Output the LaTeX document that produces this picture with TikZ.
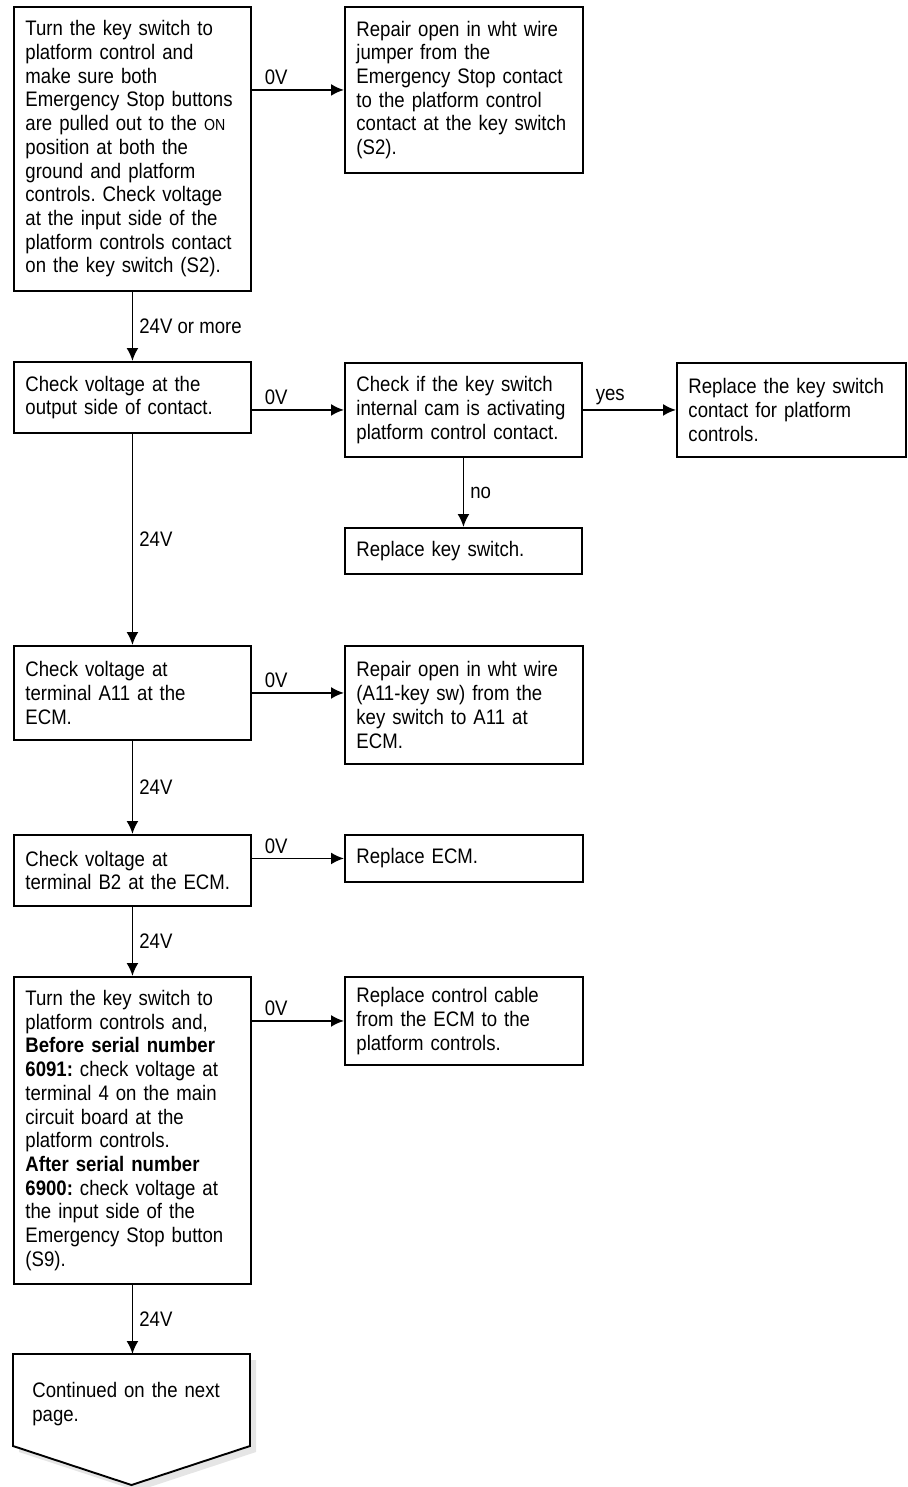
\documentclass[tikz,border=0pt]{standalone}
\usepackage{fontspec}
\setmainfont{Liberation Sans}[FakeStretch=0.885]
\usetikzlibrary{arrows.meta}
\frenchspacing

\begin{document}
\begin{tikzpicture}[x=0.5pt, y=-0.5pt, >={Latex[length=6.5pt, width=6pt]},
  every node/.style={font=\fontsize{10.5}{11.85}\selectfont},
  stepbox/.style={draw, line width=0.95pt, anchor=north west, align=left,
    minimum width=118.5pt, text width=107pt, inner xsep=5.75pt, inner ysep=0pt},
  flow/.style={->, line width=0.95pt},
  volt/.style={inner sep=2pt, xshift=4pt},
  vlabel/.style={inner sep=3pt}]
\useasboundingbox (0,0) rectangle (908,1487);

% left column of checks
\node[stepbox, minimum height=142pt] (check1) at (13,6)
  {Turn the key switch to\\ platform control and\\ make sure both\\
   Emergency Stop buttons\\ are pulled out to the {\fontsize{8}{8}\selectfont ON}\\
   position at both the\\ ground and platform\\ controls. Check voltage\\
   at the input side of the\\ platform controls contact\\ on the key switch (S2).};
\node[stepbox, minimum height=35.5pt] (check2) at (13,361)
  {Check voltage at the\\ output side of contact.};
\node[stepbox, minimum height=47pt] (check3) at (13,645)
  {Check voltage at\\ terminal A11 at the\\ ECM.};
\node[stepbox, minimum height=35.5pt] (check4) at (13,834)
  {Check voltage at\\ terminal B2 at the ECM.};
\node[stepbox, minimum height=153.5pt] (check5) at (13,976)
  {Turn the key switch to\\ platform controls and,\\ \textbf{Before serial number}\\
   \textbf{6091:} check voltage at\\ terminal 4 on the main\\ circuit board at the\\
   platform controls.\\ \textbf{After serial number}\\ \textbf{6900:} check voltage at\\
   the input side of the\\ Emergency Stop button\\ (S9).};

% repairs and replacements
\node[stepbox, minimum width=119pt, text width=107.5pt, minimum height=83pt] (repair1) at (344,6)
  {Repair open in wht wire\\ jumper from the\\ Emergency Stop contact\\
   to the platform control\\ contact at the key switch\\ (S2).};
\node[stepbox, minimum height=47pt] (cam) at (344,362)
  {Check if the key switch\\ internal cam is activating\\ platform control contact.};
\node[stepbox, minimum width=114.5pt, text width=103pt, minimum height=47pt] (contact) at (676,362)
  {Replace the key switch\\ contact for platform\\ controls.};
\node[stepbox, minimum height=23pt] (keysw) at (344,527) {Replace key switch.};
\node[stepbox, minimum width=119pt, text width=107.5pt, minimum height=59pt] (repair2) at (344,645)
  {Repair open in wht wire\\ (A11-key sw) from the\\ key switch to A11 at\\ ECM.};
\node[stepbox, minimum width=119pt, text width=107.5pt, minimum height=23.5pt] (ecm) at (344,834)
  {Replace ECM.};
\node[stepbox, minimum width=119pt, text width=107.5pt, minimum height=44pt] (cable) at (344,976)
  {Replace control cable\\ from the ECM to the\\ platform controls.};

% off-page connector
\coordinate (contnw) at (13,1354);
\fill[gray!20] ([shift={(3pt,-3pt)}]contnw) -- ++(237,0) -- ++(0,92) -- ++(-118.5,39) -- ++(-118.5,-39) -- cycle;
\draw[line width=0.95pt, fill=white] (contnw) -- ++(237,0) -- ++(0,92) -- ++(-118.5,39) -- ++(-118.5,-39) -- cycle;
\node[anchor=north west, align=left, minimum width=118.5pt, text width=99.5pt,
  inner xsep=9.5pt, inner ysep=14pt] (cont) at (contnw) {Continued on the next\\ page.};

% connectors
\draw[flow] (check1.east |- repair1.west) -- node[pos=0, volt, above right] {0V} (repair1.west);
\draw[flow] (check1.south) -- node[midway, right, vlabel] {24V or more} (check2.north);
\draw[flow] (check2.east |- cam.west) -- node[pos=0, volt, above right] {0V} (cam.west);
\draw[flow] (cam.east) -- node[pos=0, volt, above right] {yes} (contact.west);
\draw[flow] (cam.south) -- node[midway, right, vlabel] {no} (keysw.north);
\draw[flow] (check2.south) -- node[midway, right, vlabel] {24V} (check3.north);
\draw[flow] (check3.east) -- node[pos=0, volt, above right] {0V} (check3.east -| repair2.west);
\draw[flow] (check3.south) -- node[midway, right, vlabel] {24V} (check4.north);
\draw[flow] (check4.east |- ecm.west) -- node[pos=0, volt, above right] {0V} (ecm.west);
\draw[flow] (check4.south) -- node[midway, right, vlabel] {24V} (check5.north);
\draw[flow] (check5.east |- cable.west) -- node[pos=0, volt, above right] {0V} (cable.west);
\draw[flow] (check5.south) -- node[midway, right, vlabel] {24V} (check5.south |- cont.north);
\end{tikzpicture}
\end{document}
